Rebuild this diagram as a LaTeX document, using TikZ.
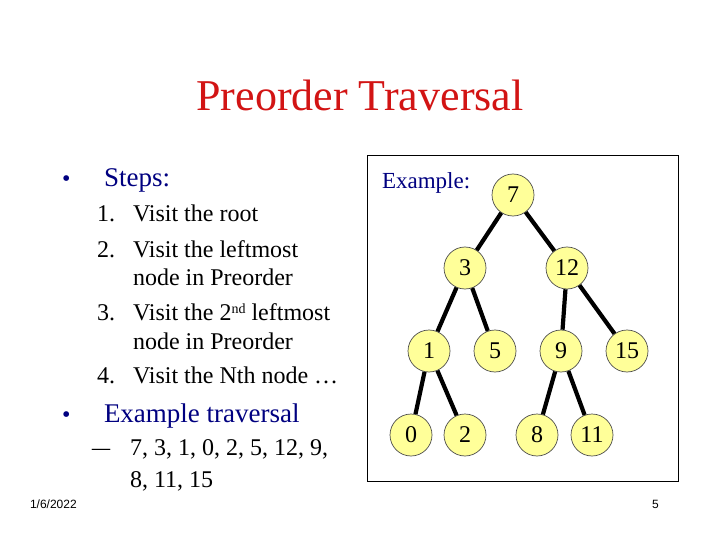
\documentclass[tikz,border=0pt]{standalone}
\usepackage{fontspec}
\setmainfont{Liberation Serif}
\setsansfont{Liberation Sans}
\definecolor{titlered}{RGB}{210,20,20}
\definecolor{navy}{RGB}{0,0,128}
\definecolor{nodefill}{RGB}{255,255,153}
\begin{document}
\begin{tikzpicture}[x=1pt,y=-1pt,
  txt/.style={anchor=base west,inner sep=0pt,outer sep=0pt},
  tnode/.style={circle,draw=black!70,line width=0.7pt,fill=nodefill,minimum size=42pt,inner sep=0pt,font=\fontsize{24}{24}\selectfont},
  edge/.style={line width=4.2pt,black}]
\useasboundingbox (0,0) rectangle (720,540);
% title
\node[anchor=base,inner sep=0pt,text=titlered,font=\fontsize{44}{44}\selectfont] (title) at (360,111) {Preorder Traversal};
% left column
\node[txt,text=navy,font=\fontsize{24}{24}\selectfont] (b1) at (62,187) {\textbullet};
\node[txt,text=navy,font=\fontsize{27}{27}\selectfont] (steps) at (104,187) {Steps:};
\begin{scope}[every node/.style={txt,font=\fontsize{24}{24}\selectfont}]
\node (n1) at (97,222) {1.};
\node (s1) at (133,222) {Visit the root};
\node (n2) at (97,257) {2.};
\node (s2a) at (133,257) {Visit the leftmost};
\node (s2b) at (133,285) {node in Preorder};
\node (n3) at (97,320) {3.};
\node (s3a) at (133,320) {Visit the 2{\fontsize{14}{14}\selectfont\raisebox{7pt}{nd}} leftmost};
\node (s3b) at (133,349) {node in Preorder};
\node (n4) at (97,383) {4.};
\node (s4) at (133,383) {Visit the Nth node …};
\node (dash) at (92,455) {\scalebox{1.5}[1]{–}};
\node (t1) at (130,455) {7, 3, 1, 0, 2, 5, 12, 9,};
\node (t2) at (130,487) {8, 11, 15};
\end{scope}
\node[txt,text=navy,font=\fontsize{24}{24}\selectfont] (b2) at (62,422) {\textbullet};
\node[txt,text=navy,font=\fontsize{27}{27}\selectfont] (ext) at (104,422) {Example traversal};
% footer
\node[txt,font=\sffamily\fontsize{12}{12}\selectfont] (date) at (30,508) {1/6/2022};
\node[txt,font=\sffamily\fontsize{12}{12}\selectfont] (page) at (652,508) {5};
% example box
\draw[line width=1pt] (367,156) rectangle (678,481);
\node[txt,text=navy,font=\fontsize{23}{23}\selectfont] (exlabel) at (382,189) {Example:};
% tree nodes
\node[tnode] (v7) at (513,195) {7};
\node[tnode] (v3) at (465,268) {3};
\node[tnode] (v12) at (567,268) {12};
\node[tnode] (v1) at (429,351) {1};
\node[tnode] (v5) at (495,351) {5};
\node[tnode] (v9) at (561,351) {9};
\node[tnode] (v15) at (627,351) {15};
\node[tnode] (v0) at (411,435) {0};
\node[tnode] (v2) at (465,435) {2};
\node[tnode] (v8) at (537,435) {8};
\node[tnode] (v11) at (592,435) {11};
% edges
\draw[edge] (v7) -- (v3);
\draw[edge] (v7) -- (v12);
\draw[edge] (v3) -- (v1);
\draw[edge] (v3) -- (v5);
\draw[edge] (v12) -- (v9);
\draw[edge] (v12) -- (v15);
\draw[edge] (v1) -- (v0);
\draw[edge] (v1) -- (v2);
\draw[edge] (v9) -- (v8);
\draw[edge] (v9) -- (v11);
\end{tikzpicture}
\end{document}
